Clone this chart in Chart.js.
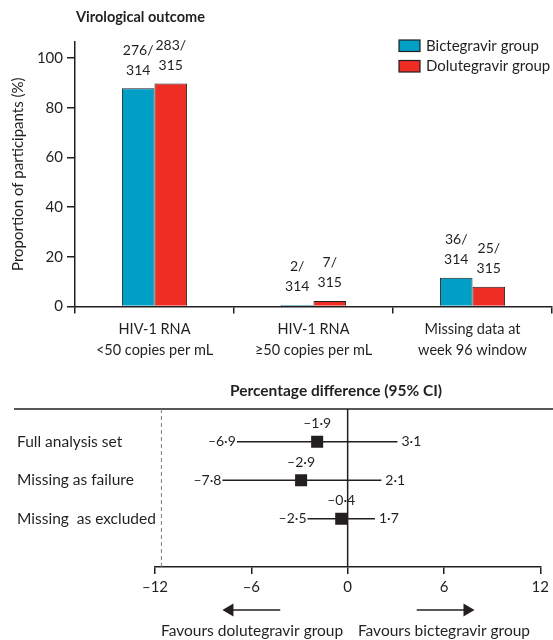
<!DOCTYPE html>
<html lang="en">
<head>
<meta charset="UTF-8">
<title>Virological outcome</title>
<script src="https://cdn.jsdelivr.net/npm/chart.js"></script>
<style>
  body { margin: 0; background: #fff; }
  #wrap1 { position: absolute; left: 0; top: 0; width: 553px; height: 370px; }
  #wrap2 { position: absolute; left: 0; top: 370px; width: 553px; height: 270px; }
</style>
</head>
<body>
<div id="wrap1"><canvas id="outcomeChart"></canvas></div>
<div id="wrap2"><canvas id="diffChart"></canvas></div>
<script>
// virological outcome (bars)
const categories = [['HIV-1 RNA', '<50 copies per mL'], ['HIV-1 RNA', '≥50 copies per mL'], ['Missing data at', 'week 96 window']];
const seriesNames = ['Bictegravir group', 'Dolutegravir group'];
const bicPercent = [87.9, 0.6, 11.5];
const dolPercent = [89.8, 2.2, 7.9];
const bicCounts = [276, 2, 36];
const dolCounts = [283, 7, 25];
const bicTotal = 314;
const dolTotal = 315;
const yTicks = [0, 20, 40, 60, 80, 100];

// percentage difference (forest)
const analyses = ['Full analysis set', 'Missing as failure', 'Missing  as excluded'];
const diffEstimate = [-1.9, -2.9, -0.4];
const diffLower = [-6.9, -7.8, -2.5];
const diffUpper = [3.1, 2.1, 1.7];
const diffTicks = [-12, -6, 0, 6, 12];
const marginLine = -11.6;

const blue = '#009fc6';
const red = '#ee2d24';
const ink = '#231f20';

Chart.defaults.font.family = 'Lato';
Chart.defaults.font.size = 14;
Chart.defaults.color = ink;

function fmt(v) {
    return String(v).replace('-', '\u2013').replace('.', '\u00b7');
}

const outcomeExtras = {
    id: 'outcomeExtras',
    afterDatasetsDraw(chart) {
        const ctx = chart.ctx;
        const counts = [bicCounts, dolCounts];
        const totals = [bicTotal, dolTotal];
        ctx.save();
        ctx.fillStyle = ink;
        ctx.font = '14px Lato';
        ctx.textAlign = 'center';
        ctx.textBaseline = 'middle';
        chart.data.datasets.forEach((ds, di) => {
            chart.getDatasetMeta(di).data.forEach((bar, i) => {
                ctx.fillText(counts[di][i] + '/', bar.x, bar.y - 38);
                ctx.fillText(String(totals[di]), bar.x, bar.y - 18);
            });
        });

        // legend
        ctx.textAlign = 'left';
        ctx.font = '15px Lato';
        chart.data.datasets.forEach((ds, di) => {
            const y = 40 + di * 20.5;
            ctx.fillStyle = ds.backgroundColor;
            ctx.fillRect(399, y, 21, 11.5);
            ctx.strokeStyle = ink;
            ctx.lineWidth = 1.2;
            ctx.strokeRect(399, y, 21, 11.5);
            ctx.fillStyle = ink;
            ctx.fillText(ds.label, 426, y + 6);
        });

        ctx.font = 'bold 14.5px Lato';
        ctx.fillText('Virological outcome', 76, 17);
        ctx.restore();
    }
};

new Chart(document.getElementById('outcomeChart'), {
    type: 'bar',
    plugins: [outcomeExtras],
    data: {
        labels: categories,
        datasets: [
            { label: seriesNames[0], data: bicPercent, backgroundColor: blue, borderColor: ink, borderWidth: 1 },
            { label: seriesNames[1], data: dolPercent, backgroundColor: red, borderColor: ink, borderWidth: 1 }
        ]
    },
    options: {
        responsive: true,
        maintainAspectRatio: false,
        animation: false,
        layout: { padding: { top: 42, right: 1, bottom: 4, left: 0 } },
        datasets: { bar: { categoryPercentage: 0.41, barPercentage: 1.0 } },
        plugins: { legend: { display: false }, tooltip: { enabled: false } },
        scales: {
            x: {
                grid: { offset: true, drawOnChartArea: false, tickLength: 7, color: ink, lineWidth: 1.5 },
                border: { color: ink, width: 1.5 },
                ticks: { color: ink, maxRotation: 0, padding: 6, font: { size: 14.5, lineHeight: 1.4 } }
            },
            y: {
                min: 0,
                max: 106.5,
                afterBuildTicks: scale => { scale.ticks = yTicks.map(v => ({ value: v })); },
                afterFit: scale => { scale.width = 75; },
                grid: { drawOnChartArea: false, tickLength: 8, color: ink, lineWidth: 1.5 },
                border: { color: ink, width: 1.5 },
                ticks: { color: ink, padding: 4, font: { size: 15 } },
                title: { display: true, text: 'Proportion of participants (%)', color: ink, font: { size: 15 }, padding: { top: 9, bottom: 0 } }
            }
        }
    }
});

const diffExtras = {
    id: 'diffExtras',
    beforeDatasetsDraw(chart) {
        const ctx = chart.ctx;
        const xs = chart.scales.x;
        const area = chart.chartArea;
        ctx.save();
        ctx.strokeStyle = ink;
        ctx.lineWidth = 1.5;
        ctx.beginPath();
        ctx.moveTo(14, area.top);
        ctx.lineTo(553, area.top);
        const x0 = xs.getPixelForValue(0);
        ctx.moveTo(x0, area.top);
        ctx.lineTo(x0, area.bottom);
        ctx.stroke();

        ctx.strokeStyle = '#6e7f88';
        ctx.lineWidth = 1;
        ctx.setLineDash([4, 3]);
        const xm = xs.getPixelForValue(marginLine);
        ctx.beginPath();
        ctx.moveTo(xm, area.top);
        ctx.lineTo(xm, area.bottom);
        ctx.stroke();
        ctx.restore();
    },
    afterDatasetsDraw(chart) {
        const ctx = chart.ctx;
        const xs = chart.scales.x;
        const ys = chart.scales.y;
        ctx.save();
        ctx.fillStyle = ink;
        ctx.textBaseline = 'middle';

        ctx.font = 'bold 15.5px Lato';
        ctx.textAlign = 'center';
        ctx.fillText('Percentage difference (95% CI)', 336, 21);

        ctx.font = '15.5px Lato';
        ctx.textAlign = 'left';
        analyses.forEach((name, i) => {
            ctx.fillText(name, 17, ys.getPixelForValue(i + 1));
        });

        ctx.font = '14px Lato';
        analyses.forEach((name, i) => {
            const y = ys.getPixelForValue(i + 1);
            ctx.textAlign = 'center';
            ctx.fillText(fmt(diffEstimate[i]), xs.getPixelForValue(diffEstimate[i]), y - 18);
            ctx.textAlign = 'right';
            ctx.fillText(fmt(diffLower[i]), xs.getPixelForValue(diffLower[i]) - 1, y);
            ctx.textAlign = 'left';
            ctx.fillText(fmt(diffUpper[i]), xs.getPixelForValue(diffUpper[i]) + 4, y);
        });

        // arrows and captions
        const ay = chart.chartArea.bottom + 43;
        ctx.strokeStyle = ink;
        ctx.lineWidth = 1.5;
        [[-4.2, -7.8], [4.3, 7.9]].forEach(([a, b]) => {
            const xa = xs.getPixelForValue(a);
            const xb = xs.getPixelForValue(b);
            const dir = Math.sign(xb - xa);
            ctx.beginPath();
            ctx.moveTo(xa, ay);
            ctx.lineTo(xb - dir * 10, ay);
            ctx.stroke();
            ctx.beginPath();
            ctx.moveTo(xb, ay);
            ctx.lineTo(xb - dir * 11, ay - 6.5);
            ctx.lineTo(xb - dir * 11, ay + 6.5);
            ctx.closePath();
            ctx.fill();
        });
        ctx.font = '15.5px Lato';
        ctx.textAlign = 'center';
        ctx.fillText('Favours dolutegravir group', xs.getPixelForValue(-5.95), ay + 21);
        ctx.fillText('Favours bictegravir group', xs.getPixelForValue(6.0), ay + 21);
        ctx.restore();
    }
};

new Chart(document.getElementById('diffChart'), {
    type: 'scatter',
    plugins: [diffExtras],
    data: {
        datasets: [
            {
                type: 'line',
                data: analyses.flatMap((n, i) => [{ x: diffLower[i], y: i + 1 }, { x: diffUpper[i], y: i + 1 }, { x: NaN, y: NaN }]),
                borderColor: ink,
                borderWidth: 1.5,
                pointRadius: 0,
                spanGaps: false
            },
            {
                data: analyses.map((n, i) => ({ x: diffEstimate[i], y: i + 1 })),
                pointStyle: 'rect',
                pointRadius: 8.5,
                backgroundColor: ink,
                borderColor: ink,
                borderWidth: 0
            }
        ]
    },
    options: {
        responsive: true,
        maintainAspectRatio: false,
        animation: false,
        layout: { padding: { top: 39, right: 8, bottom: 40, left: 155 } },
        plugins: { legend: { display: false }, tooltip: { enabled: false } },
        scales: {
            x: {
                type: 'linear',
                min: -12,
                max: 12,
                afterBuildTicks: scale => { scale.ticks = diffTicks.map(v => ({ value: v })); },
                grid: { drawOnChartArea: false, tickLength: 7, color: ink, lineWidth: 1.5 },
                border: { color: ink, width: 1.5 },
                ticks: { color: ink, padding: 4, font: { size: 15 }, callback: v => fmt(v) }
            },
            y: {
                display: false,
                reverse: true,
                min: 0.15,
                max: 4.25
            }
        }
    }
});
</script>
</body>
</html>
